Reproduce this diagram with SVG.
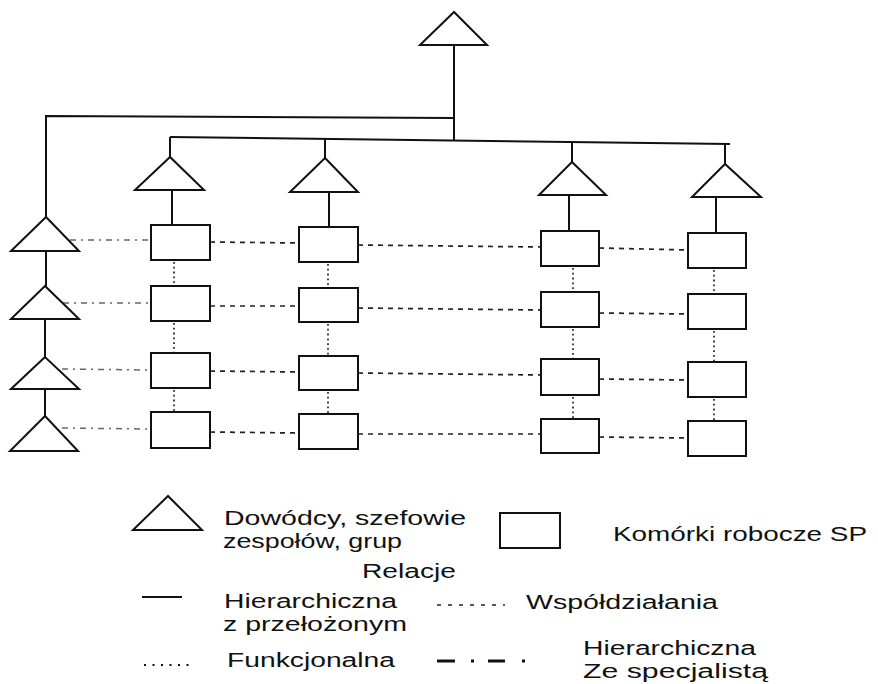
<svg xmlns="http://www.w3.org/2000/svg" width="878" height="684" viewBox="0 0 878 684">
<style>
.bg{fill:#ffffff}
.tri{fill:#ffffff;stroke:#111;stroke-width:2;stroke-linejoin:miter}
.box{fill:#ffffff;stroke:#111;stroke-width:2}
.hier{stroke:#111;stroke-width:2;fill:none}
.coop{stroke:#222;stroke-width:1.7;stroke-dasharray:5 5;fill:none}
.func{stroke:#444;stroke-width:2;stroke-dasharray:1.8 3;fill:none}
.spec{stroke:#666;stroke-width:1.5;stroke-dasharray:6 5 2 5;fill:none}
.lspec{stroke:#111;stroke-width:3;fill:none}
text{font-family:"Liberation Sans",Arial,Helvetica,sans-serif;font-size:20px;fill:#111}
</style>
<rect class="bg" x="0" y="0" width="878" height="684"/>
<g id="connectors">
  <line class="hier" x1="454" y1="45" x2="454" y2="141"/>
  <polyline class="hier" points="454,118 46,116 46,217"/>
  <line class="hier" x1="170" y1="137" x2="730" y2="144"/>
  <line class="hier" x1="170" y1="137" x2="170" y2="157"/>
  <line class="hier" x1="325" y1="139" x2="325" y2="158"/>
  <line class="hier" x1="572" y1="142" x2="572" y2="162"/>
  <line class="hier" x1="725" y1="144" x2="725" y2="164"/>
  <line class="hier" x1="172" y1="190" x2="172" y2="225"/>
  <line class="hier" x1="329" y1="192" x2="329" y2="227"/>
  <line class="hier" x1="569" y1="195" x2="569" y2="231"/>
  <line class="hier" x1="716" y1="197" x2="716" y2="233"/>
  <line class="hier" x1="46" y1="251" x2="46" y2="286"/>
  <line class="hier" x1="45" y1="319" x2="45" y2="357"/>
  <line class="hier" x1="45" y1="389" x2="45" y2="416"/>
  <line class="spec" x1="70" y1="240" x2="151" y2="240"/>
  <line class="spec" x1="63" y1="303" x2="151" y2="303"/>
  <line class="spec" x1="62" y1="369" x2="151" y2="370"/>
  <line class="spec" x1="62" y1="428" x2="151" y2="429"/>
  <line class="coop" x1="210" y1="242" x2="299" y2="243"/>
  <line class="coop" x1="358" y1="245" x2="541" y2="247"/>
  <line class="coop" x1="599" y1="248" x2="688" y2="250"/>
  <line class="coop" x1="210" y1="306" x2="299" y2="306"/>
  <line class="coop" x1="358" y1="308" x2="541" y2="310"/>
  <line class="coop" x1="599" y1="313" x2="688" y2="314"/>
  <line class="coop" x1="210" y1="371" x2="299" y2="372"/>
  <line class="coop" x1="358" y1="373" x2="541" y2="375"/>
  <line class="coop" x1="599" y1="379" x2="688" y2="380"/>
  <line class="coop" x1="210" y1="432" x2="299" y2="433"/>
  <line class="coop" x1="358" y1="434" x2="541" y2="434"/>
  <line class="coop" x1="599" y1="437" x2="688" y2="438"/>
  <line class="func" x1="174" y1="262" x2="174" y2="286"/>
  <line class="func" x1="174" y1="323" x2="174" y2="353"/>
  <line class="func" x1="174" y1="390" x2="174" y2="412"/>
  <line class="func" x1="328" y1="264" x2="328" y2="288"/>
  <line class="func" x1="328" y1="324" x2="328" y2="356"/>
  <line class="func" x1="328" y1="392" x2="328" y2="414"/>
  <line class="func" x1="573" y1="268" x2="573" y2="292"/>
  <line class="func" x1="573" y1="329" x2="573" y2="359"/>
  <line class="func" x1="573" y1="397" x2="573" y2="419"/>
  <line class="func" x1="714" y1="270" x2="714" y2="294"/>
  <line class="func" x1="714" y1="331" x2="714" y2="362"/>
  <line class="func" x1="714" y1="399" x2="714" y2="421"/>
</g>
<g id="nodes">
  <g id="top"><polygon class="tri" points="454,12 420,45 487,45"/></g>
  <g id="t1"><polygon class="tri" points="170,157 135,190 204,190"/></g>
  <g id="t2"><polygon class="tri" points="325,158 290,192 358,192"/></g>
  <g id="t3"><polygon class="tri" points="572,162 539,195 606,195"/></g>
  <g id="t4"><polygon class="tri" points="725,164 692,197 761,197"/></g>
  <g id="l1"><polygon class="tri" points="46,217 11,251 79,251"/></g>
  <g id="l2"><polygon class="tri" points="45,286 11,319 79,319"/></g>
  <g id="l3"><polygon class="tri" points="45,357 11,389 79,389"/></g>
  <g id="l4"><polygon class="tri" points="45,416 10,451 78,451"/></g>
  <g id="b11"><rect class="box" x="151" y="225" width="59" height="35"/></g>
  <g id="b12"><rect class="box" x="151" y="286" width="59" height="35"/></g>
  <g id="b13"><rect class="box" x="151" y="353" width="59" height="35"/></g>
  <g id="b14"><rect class="box" x="151" y="412" width="59" height="36"/></g>
  <g id="b21"><rect class="box" x="299" y="227" width="59" height="35"/></g>
  <g id="b22"><rect class="box" x="299" y="288" width="59" height="34"/></g>
  <g id="b23"><rect class="box" x="299" y="356" width="59" height="34"/></g>
  <g id="b24"><rect class="box" x="299" y="414" width="59" height="35"/></g>
  <g id="b31"><rect class="box" x="541" y="231" width="58" height="35"/></g>
  <g id="b32"><rect class="box" x="541" y="292" width="58" height="35"/></g>
  <g id="b33"><rect class="box" x="541" y="359" width="58" height="36"/></g>
  <g id="b34"><rect class="box" x="541" y="419" width="58" height="34"/></g>
  <g id="b41"><rect class="box" x="688" y="233" width="58" height="35"/></g>
  <g id="b42"><rect class="box" x="688" y="294" width="58" height="35"/></g>
  <g id="b43"><rect class="box" x="688" y="362" width="58" height="35"/></g>
  <g id="b44"><rect class="box" x="688" y="421" width="58" height="35"/></g>
</g>
<g id="legend">
  <polygon class="tri" points="168,496 133,530 202,530"/>
  <text x="224" y="525" textLength="242" lengthAdjust="spacingAndGlyphs">Dowódcy, szefowie</text>
  <text x="223" y="548" textLength="179" lengthAdjust="spacingAndGlyphs">zespołów, grup</text>
  <rect class="box" x="500" y="513" width="60" height="35"/>
  <text x="613" y="541" textLength="254" lengthAdjust="spacingAndGlyphs">Komórki robocze SP</text>
  <text x="362" y="578" textLength="94" lengthAdjust="spacingAndGlyphs">Relacje</text>
  <line class="hier" x1="142" y1="597" x2="182" y2="597"/>
  <text x="224" y="608" textLength="173" lengthAdjust="spacingAndGlyphs">Hierarchiczna</text>
  <text x="223" y="631" textLength="184" lengthAdjust="spacingAndGlyphs">z przełożonym</text>
  <line x1="437" y1="605" x2="505" y2="605" style="stroke:#222;stroke-width:1.4;stroke-dasharray:4 7"/>
  <text x="526" y="609" textLength="192" lengthAdjust="spacingAndGlyphs">Współdziałania</text>
  <line x1="144" y1="665" x2="195" y2="665" style="stroke:#111;stroke-width:2.2;stroke-dasharray:2 6.5"/>
  <text x="227" y="667" textLength="168" lengthAdjust="spacingAndGlyphs">Funkcjonalna</text>
  <line class="lspec" x1="437" y1="661" x2="455" y2="661"/>
  <line class="lspec" x1="471" y1="661" x2="474" y2="661"/>
  <line class="lspec" x1="488" y1="661" x2="505" y2="661"/>
  <line class="lspec" x1="522" y1="661" x2="525" y2="661"/>
  <text x="583" y="655" textLength="173" lengthAdjust="spacingAndGlyphs">Hierarchiczna</text>
  <text x="583" y="678" textLength="185" lengthAdjust="spacingAndGlyphs">Ze specjalistą</text>
</g>
</svg>
